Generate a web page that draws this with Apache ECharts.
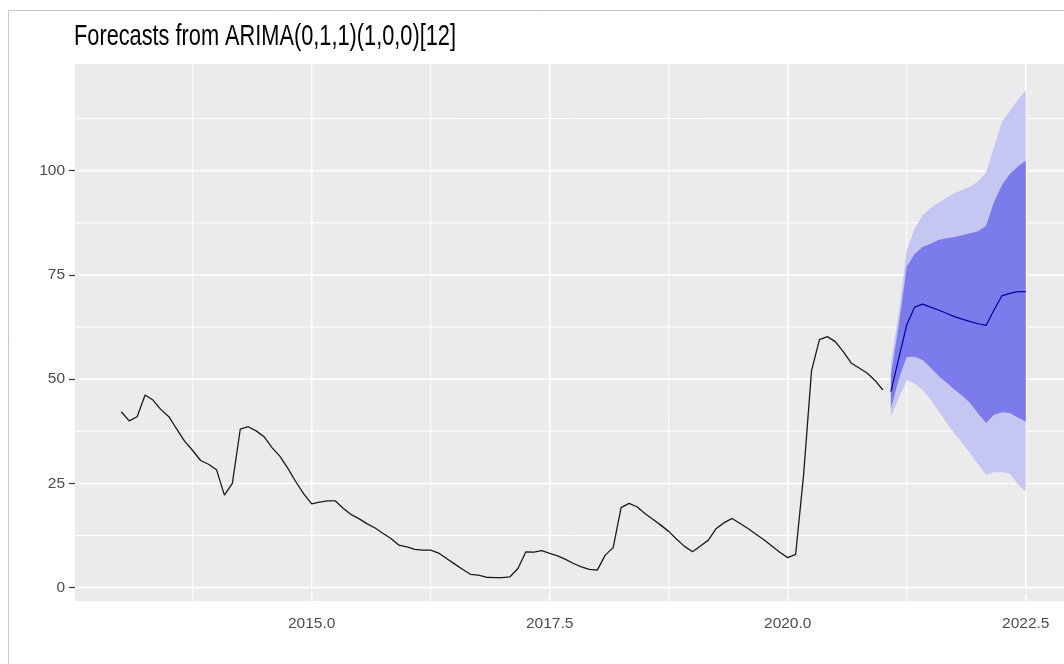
<!DOCTYPE html>
<html>
<head>
<meta charset="utf-8">
<script src="https://cdn.jsdelivr.net/npm/echarts@6/dist/echarts.min.js"></script>
<style>
html,body{margin:0;padding:0;background:#fff;}
#chart{width:1064px;height:664px;}
</style>
</head>
<body>
<div id="chart"></div>
<script>
// ---- data ----
const titleText = 'Forecasts from ARIMA(0,1,1)(1,0,0)[12]';
const histStartYear = 2013;      // January 2013, monthly series
const monthsPerYear = 12;
const histValues = [
  42.2, 40.0, 41.0, 46.2, 45.0, 42.7, 41.0, 38.0, 35.1, 32.9, 30.5, 29.6,
  28.3, 22.2, 25.0, 38.0, 38.6, 37.6, 36.2, 33.6, 31.5, 28.6, 25.4, 22.5,
  20.1, 20.5, 20.8, 20.8, 19.0, 17.5, 16.5, 15.3, 14.3, 13.0, 11.8, 10.2,
  9.8, 9.2, 9.0, 9.0, 8.3, 7.0, 5.7, 4.4, 3.2, 3.0, 2.5, 2.4,
  2.4, 2.6, 4.6, 8.6, 8.5, 8.9, 8.2, 7.6, 6.8, 5.8, 5.0, 4.4,
  4.2, 7.8, 9.6, 19.2, 20.2, 19.4, 17.8, 16.4, 15.0, 13.5, 11.6, 9.9,
  8.6, 10.0, 11.4, 14.2, 15.6, 16.6, 15.4, 14.2, 12.8, 11.5, 10.0, 8.5,
  7.2, 8.0, 27.0, 52.0, 59.5, 60.2, 59.0, 56.6, 53.9, 52.7, 51.5, 49.7,
  47.4
];
const fcStartYear = 2021;         // forecast starts February 2021
const fcStartMonth = 1;           // 0 = Jan
const fcMean = [47.0, 55.0, 63.0, 67.3, 68.0, 67.3, 66.6, 65.8, 65.0, 64.4, 63.8, 63.3, 62.9, 66.6, 70.0, 70.6, 71.0, 71.0];
const fcLo80 = [43.0, 50.0, 55.3, 55.4, 54.6, 52.8, 50.8, 49.2, 47.5, 46.0, 44.3, 41.8, 39.5, 41.5, 42.1, 41.9, 40.8, 39.8];
const fcHi80 = [51.0, 63.0, 77.0, 80.0, 81.7, 82.5, 83.4, 83.8, 84.1, 84.5, 85.0, 85.5, 86.8, 92.5, 96.5, 99.2, 101.0, 102.4];
const fcLo95 = [41.0, 45.5, 49.7, 49.0, 47.4, 45.2, 42.4, 39.6, 37.0, 34.7, 32.2, 29.6, 27.0, 27.7, 27.7, 27.4, 24.8, 23.0];
const fcHi95 = [54.0, 66.0, 81.0, 86.0, 89.3, 91.0, 92.3, 93.5, 94.6, 95.4, 96.2, 97.4, 99.6, 105.7, 111.7, 114.3, 117.0, 119.3];
const xTickValues = [2015, 2017.5, 2020, 2022.5];
const xMinorValues = [2013.75, 2016.25, 2018.75, 2021.25];
const yTickValues = [0, 25, 50, 75, 100];
const yMinorValues = [12.5, 37.5, 62.5, 87.5, 112.5];
const xRange = [2012.514, 2022.902];
const yRange = [-3.2, 125.6];

// ---- build ----
const histData = histValues.map((v, i) => [histStartYear + i / monthsPerYear, v]);
const fcX = fcMean.map((_, i) => fcStartYear + (fcStartMonth + i) / monthsPerYear);
const pairs = (arr) => arr.map((v, i) => [fcX[i], v]);

const LIGHT = '#C6C6F3';
const DARK = '#7B7BEB';
const FONT = 'Liberation Sans';

const gridSeries = [];
function gridLine(data, width) {
  gridSeries.push({
    type: 'line', data: data, z: 1, silent: true, symbol: 'none',
    lineStyle: { color: '#ffffff', width: width },
    emphasis: { disabled: true }, animation: false
  });
}
xMinorValues.forEach(v => gridLine([[v, yRange[0]], [v, yRange[1]]], 1.0));
yMinorValues.forEach(v => gridLine([[xRange[0], v], [xRange[1], v]], 1.0));
xTickValues.forEach(v => gridLine([[v, yRange[0]], [v, yRange[1]]], 1.6));
yTickValues.forEach(v => gridLine([[xRange[0], v], [xRange[1], v]], 1.6));

function bandSeries(lo, hi, color, z) {
  return {
    type: 'custom', silent: true, z: z, animation: false,
    data: fcX.map((x, i) => [x, lo[i], hi[i]]),
    encode: { x: 0, y: [1, 2] },
    renderItem: function (params, api) {
      if (params.dataIndex !== 0) return null;
      const pts = [];
      for (let i = 0; i < fcX.length; i++) pts.push(api.coord([fcX[i], hi[i]]));
      for (let i = fcX.length - 1; i >= 0; i--) pts.push(api.coord([fcX[i], lo[i]]));
      return { type: 'polygon', shape: { points: pts }, style: { fill: color, stroke: null } };
    }
  };
}

const option = {
  animation: false,
  backgroundColor: '#ffffff',
  grid: {
    left: 75, top: 64, right: 0, bottom: 63,
    show: true, backgroundColor: '#EBEBEB', borderWidth: 0, containLabel: false
  },
  xAxis: {
    type: 'value', min: xRange[0], max: xRange[1],
    axisLine: { show: false },
    axisTick: { show: true, length: 6, customValues: xTickValues, lineStyle: { color: '#333333', width: 1.2 } },
    axisLabel: {
      customValues: xTickValues, margin: 15,
      fontFamily: FONT, fontSize: 15.5, color: '#4D4D4D',
      formatter: v => Number(v).toFixed(1)
    },
    splitLine: { show: false }, minorSplitLine: { show: false }
  },
  yAxis: {
    type: 'value', min: yRange[0], max: yRange[1],
    axisLine: { show: false },
    axisTick: { show: true, length: 6, customValues: yTickValues, lineStyle: { color: '#333333', width: 1.2 } },
    axisLabel: {
      customValues: yTickValues, margin: 10,
      fontFamily: FONT, fontSize: 15.5, color: '#4D4D4D',
      formatter: v => String(Math.round(v))
    },
    splitLine: { show: false }, minorSplitLine: { show: false }
  },
  graphic: [
    {
      type: 'rect', silent: true, z: 100,
      shape: { x: 8.5, y: 10.5, width: 1200, height: 800 },
      style: { fill: 'none', stroke: '#C8C8C8', lineWidth: 1 }
    },
    {
      type: 'text', silent: true, z: 100,
      x: 74, y: 21.5, scaleX: 0.73, scaleY: 1,
      style: {
        text: titleText, fill: '#000000',
        font: 'normal 29.8px "Liberation Sans", Arial, sans-serif',
        align: 'left', verticalAlign: 'top'
      }
    }
  ],
  series: gridSeries.concat([
    bandSeries(fcLo95, fcHi95, LIGHT, 2),
    bandSeries(fcLo80, fcHi80, DARK, 3),
    {
      type: 'line', name: 'mean', data: pairs(fcMean), symbol: 'none', z: 4, silent: true,
      lineStyle: { color: '#0000AA', width: 1.2 }, emphasis: { disabled: true }
    },
    {
      type: 'line', name: 'history', data: histData, symbol: 'none', z: 4, silent: true,
      lineStyle: { color: '#1A1A1A', width: 1.3 }, emphasis: { disabled: true }
    }
  ])
};

const chart = echarts.init(document.getElementById('chart'), null, { renderer: 'canvas' });
chart.setOption(option);
</script>
</body>
</html>
